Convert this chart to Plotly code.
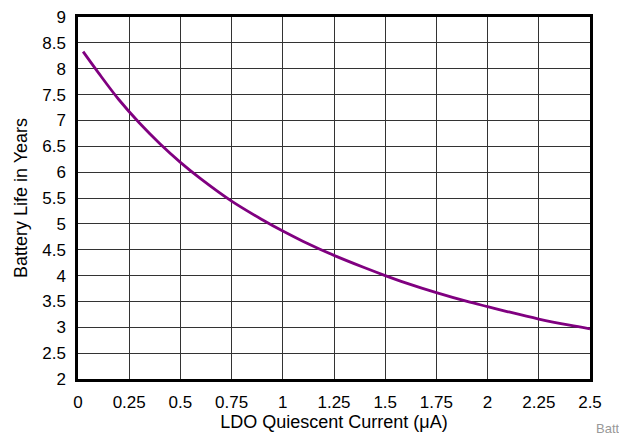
import plotly.graph_objects as go

quiescent_current_uA = [0.025, 0.1, 0.2, 0.3, 0.4, 0.5, 0.6, 0.75, 0.9, 1.0, 1.1, 1.25,
                        1.4, 1.5, 1.6, 1.75, 1.9, 2.0, 2.1, 2.25, 2.4, 2.5]
battery_life_years = [8.33, 7.92, 7.40, 6.95, 6.55, 6.19, 5.87, 5.44, 5.08, 4.86, 4.66, 4.39,
                      4.15, 4.00, 3.86, 3.67, 3.50, 3.40, 3.30, 3.16, 3.04, 2.97]

x_ticks = [0, 0.25, 0.5, 0.75, 1, 1.25, 1.5, 1.75, 2, 2.25, 2.5]
x_tick_labels = ["0", "0.25", "0.5", "0.75", "1", "1.25", "1.5", "1.75", "2", "2.25", "2.5"]
y_ticks = [2, 2.5, 3, 3.5, 4, 4.5, 5, 5.5, 6, 6.5, 7, 7.5, 8, 8.5, 9]
y_tick_labels = ["2", "2.5", "3", "3.5", "4", "4.5", "5", "5.5", "6", "6.5", "7", "7.5", "8", "8.5", "9"]

fig = go.Figure()
fig.add_trace(go.Scatter(
    x=quiescent_current_uA, y=battery_life_years, mode="lines",
    line=dict(color="#800080", width=2.8, shape="spline"),
    showlegend=False, hoverinfo="skip"))

font_family = "Liberation Sans, Arial, sans-serif"
fig.update_layout(
    width=619, height=439,
    margin=dict(l=78, r=29, t=17, b=60, autoexpand=False),
    paper_bgcolor="white", plot_bgcolor="white",
    font=dict(family=font_family, size=17, color="black"),
    xaxis=dict(range=[0, 2.5], tickvals=x_ticks, ticktext=x_tick_labels,
               showgrid=True, gridcolor="#333", gridwidth=1,
               showline=True, linecolor="black", linewidth=2.5, mirror=True,
               ticks="", ticklabelstandoff=6, zeroline=False,
               ticklabeloverflow="allow",
               tickfont=dict(size=17),
               title=dict(text="LDO Quiescent Current (\u03bcA)", standoff=0,
                          font=dict(size=18))),
    yaxis=dict(range=[2, 9], tickvals=y_ticks, ticktext=y_tick_labels,
               showgrid=True, gridcolor="#333", gridwidth=1,
               showline=True, linecolor="black", linewidth=2.5, mirror=True,
               ticks="", ticklabelstandoff=6, zeroline=False,
               ticklabeloverflow="allow",
               tickfont=dict(size=17),
               title=dict(text="Battery Life in Years", standoff=10,
                          font=dict(size=18))),
)
fig.add_annotation(text="Batt", xref="paper", yref="paper", x=1.0, y=0,
                   xshift=4, yshift=-49, xanchor="left", yanchor="middle",
                   showarrow=False, font=dict(size=13, color="#999999"))

fig.write_html(
    "out.html",
    config={"displayModeBar": False},
    post_script="document.body.style.margin='0';document.body.style.overflow='hidden';",
)
